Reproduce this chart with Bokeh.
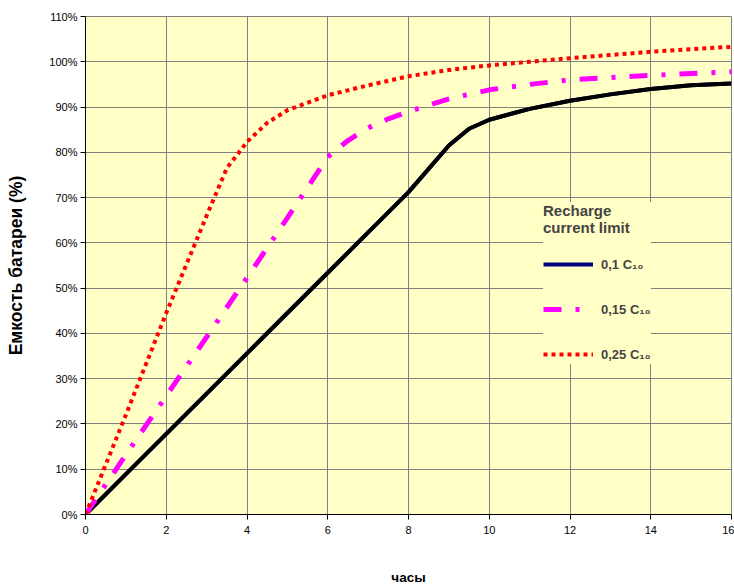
from bokeh.plotting import figure
from bokeh.models import (Range1d, FixedTicker, PrintfTickFormatter, Legend, LegendItem)
from bokeh.embed import file_html
from bokeh.resources import INLINE

# --- data (hours, % capacity) ---
hours_01 = [0, 1, 2, 3, 4, 5, 6, 7, 8, 9, 9.5, 10, 11, 12, 13, 14, 15, 16]
cap_01 = [0, 8.9, 17.8, 26.7, 35.6, 44.5, 53.4, 62.3, 71.2, 81.5, 85.2, 87.2, 89.6, 91.4, 92.8, 94.0, 94.8, 95.2]

hours_015 = [0, 1, 2, 3, 4, 5, 6, 6.5, 7, 7.5, 8, 9, 10, 11, 12, 13, 14, 15, 16]
cap_015 = [0, 13.2, 26.2, 39.2, 52.3, 65.5, 79.0, 82.6, 85.4, 87.4, 89.0, 91.8, 93.8, 95.0, 96.0, 96.5, 97.0, 97.4, 97.8]

hours_025 = [0, 1, 2, 3, 3.5, 4, 4.5, 5, 6, 7, 8, 9, 10, 11, 12, 13, 14, 15, 16]
cap_025 = [0, 22.0, 44.5, 66.0, 76.5, 82.3, 86.5, 89.3, 92.6, 94.8, 96.8, 98.2, 99.2, 100.0, 100.8, 101.5, 102.2, 102.8, 103.3]

x_ticks = [0, 2, 4, 6, 8, 10, 12, 14, 16]
y_ticks = [0, 10, 20, 30, 40, 50, 60, 70, 80, 90, 100, 110]
legend_title = "Recharge\ncurrent limit"
labels = ["0,1 C\u2081\u2080", "0,15 C\u2081\u2080", "0,25 C\u2081\u2080"]

FONT = "Liberation Sans"
BG = "#FFFFC6"

p = figure(width=734, height=587, output_backend="svg", toolbar_location=None,
           x_range=Range1d(0, 16), y_range=Range1d(0, 110),
           min_border_left=85, min_border_right=3, min_border_top=16, min_border_bottom=71,
           background_fill_color=BG, border_fill_color="white")

p.outline_line_color = "#808080"
p.outline_line_width = 1

for ax in (p.xaxis, p.yaxis):
    ax.axis_line_color = "black"
    ax.major_tick_line_color = "black"
    ax.major_tick_out = 5
    ax.major_tick_in = 0
    ax.minor_tick_line_color = None
    ax.major_label_text_font = FONT
    ax.major_label_text_font_size = "11px"
    ax.major_label_text_color = "black"
    ax.axis_label_text_font = FONT
    ax.axis_label_text_font_style = "bold"
    ax.axis_label_text_color = "black"

p.xaxis.axis_label_text_font_size = "13.5px"
p.yaxis.axis_label_text_font_size = "17.5px"
p.xaxis.ticker = FixedTicker(ticks=x_ticks)
p.yaxis.ticker = FixedTicker(ticks=y_ticks)
p.yaxis.formatter = PrintfTickFormatter(format="%d%%")
p.xaxis.axis_label = "часы"
p.yaxis.axis_label = "Емкость батареи (%)"
p.xaxis.major_label_standoff = 6
p.xaxis.axis_label_standoff = 33
p.yaxis.major_label_standoff = 3
p.yaxis.axis_label_standoff = 20

p.grid.grid_line_color = "#808080"
p.grid.grid_line_width = 1

# legend-only swatch renderer for the solid series (navy), hidden under the black line
leg1 = p.line(hours_01, cap_01, line_color="#000080", line_width=4)
r1 = p.line(hours_01, cap_01, line_color="black", line_width=4)
r2 = p.line(hours_015, cap_015, line_color="#FF00FF", line_width=5, line_dash="18 14 4 14")
r3 = p.line(hours_025, cap_025, line_color="#FF0000", line_width=4, line_dash="4 4")

legend = Legend(items=[LegendItem(label=labels[0], renderers=[leg1]),
                       LegendItem(label=labels[1], renderers=[r2]),
                       LegendItem(label=labels[2], renderers=[r3])],
                location=(458, 150), title=legend_title)
legend.title_text_font = FONT
legend.title_text_font_size = "15px"
legend.title_text_font_style = "bold"
legend.title_standoff = 18
legend.label_text_font = FONT
legend.label_text_font_size = "13px"
legend.label_text_font_style = "bold"
legend.glyph_width = 50
legend.glyph_height = 20
legend.spacing = 25
legend.padding = 10
legend.label_standoff = 8
legend.background_fill_color = BG
legend.background_fill_alpha = 1
legend.border_line_color = None
p.add_layout(legend, "center")

open("out.html", "w").write(file_html(p, INLINE))
